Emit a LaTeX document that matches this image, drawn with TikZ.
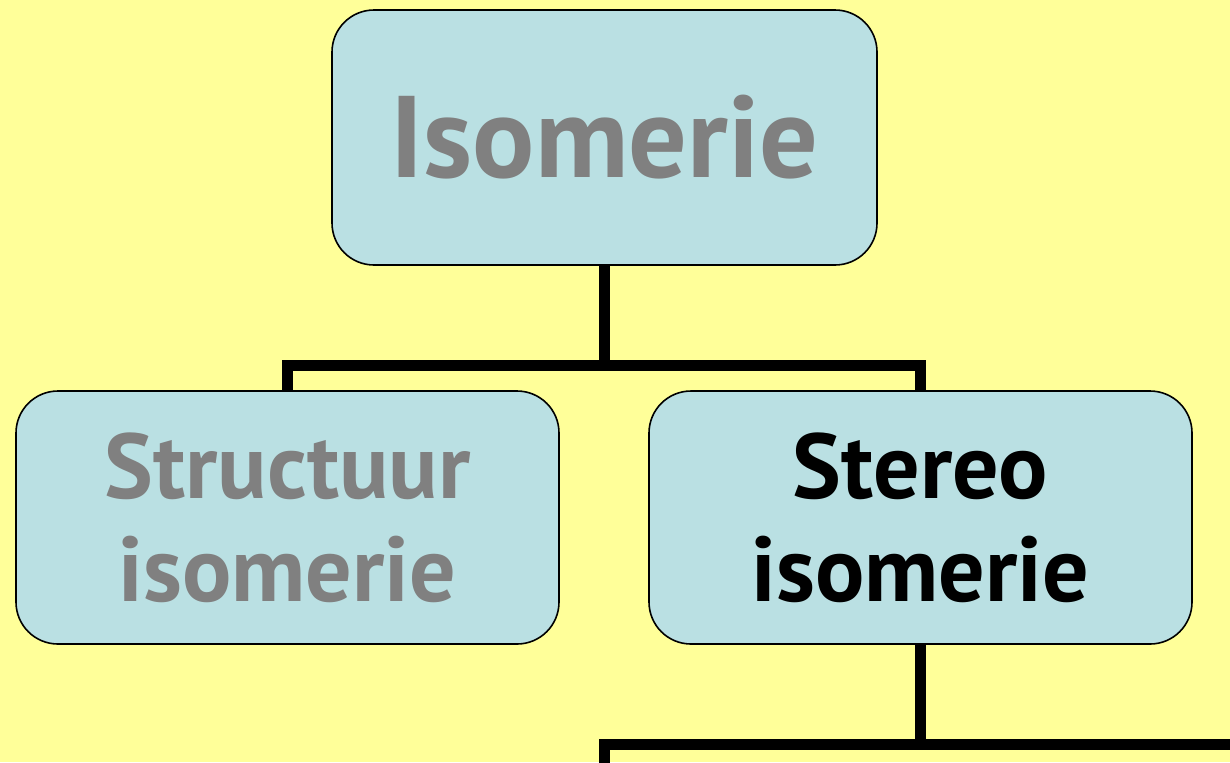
\documentclass[tikz,border=0pt]{standalone}
\usepackage{fontspec}
\setmainfont{PT Sans}
\definecolor{pagebg}{HTML}{FFFF99}
\definecolor{boxfill}{HTML}{BAE0E3}
\definecolor{greytext}{HTML}{808080}
\tikzset{
  conceptbox/.style={draw=black, line width=0.8pt, fill=boxfill, rounded corners=21pt,
    minimum width=271.5pt, minimum height=126.5pt, inner sep=0pt, align=center,
    font=\bfseries\fontsize{46}{51.5}\selectfont},
  rootbox/.style={conceptbox, minimum width=272.5pt, minimum height=127.5pt,
    font=\bfseries\fontsize{58}{60}\selectfont},
  link/.style={draw=black, line width=5.5pt, line join=miter}
}
\begin{document}
\begin{tikzpicture}[x=0.5pt,y=-0.5pt]
  % page
  \fill[pagebg] (0,0) rectangle (1230,762);
  \useasboundingbox (0,0) rectangle (1230,762);

  % concept boxes
  \node[rootbox, text=greytext] (iso) at (604.5,137.5) {Isomerie};
  \node[conceptbox, text=greytext] (struct) at (287.5,517.5) {Structuur\\isomerie};
  \node[conceptbox, text=black] (stereo) at (920.5,517.5) {Stereo\\isomerie};

  % junction rails
  \coordinate (railA) at (0,365);
  \coordinate (railB) at (0,744);
  \coordinate (railEnd) at (1240,744);
  \coordinate (dropEnd) at (604,770);

  % connectors
  \draw[link] (iso.south) -- (iso.south |- railA);
  \draw[link] (struct.north) |- (stereo.north |- railA) -- (stereo.north);
  \draw[link] (stereo.south) -- (stereo.south |- railB);
  \draw[link] (dropEnd) |- (railEnd);
\end{tikzpicture}
\end{document}
